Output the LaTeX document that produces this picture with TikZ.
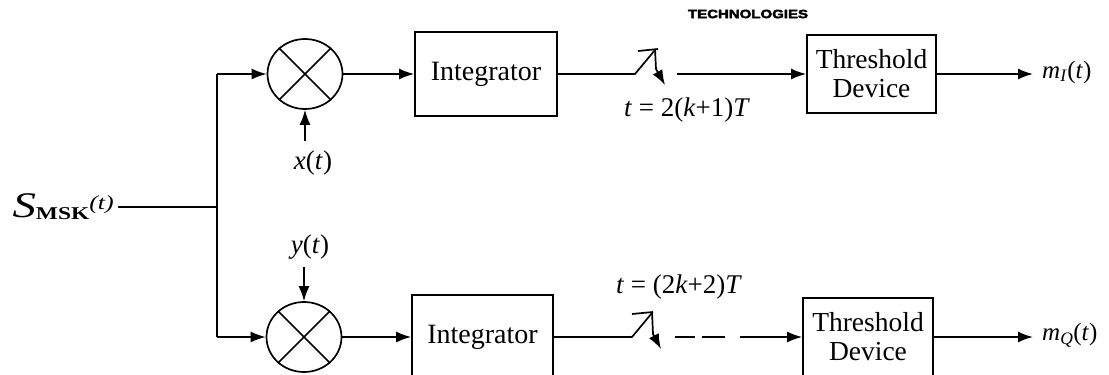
\documentclass[tikz,border=0pt]{standalone}
\usepackage{fontspec}
\setmainfont{Liberation Serif}
\newfontfamily\wmfont[FakeBold=3]{Liberation Sans Bold}
\usetikzlibrary{arrows.meta,shapes.geometric,calc}

\begin{document}
\begin{tikzpicture}[x=1pt,y=-1pt,
  wire/.style={line width=1.7pt},
  flow/.style={wire,-{Latex[length=15pt,width=11pt]}},
  block/.style={draw,line width=1.7pt,inner sep=0pt,align=center,
                font=\fontsize{28}{29}\selectfont},
  mixer/.style={draw,ellipse,line width=1.7pt,minimum width=75pt,
                minimum height=70pt,inner sep=0pt},
  lbl/.style={inner sep=0pt,font=\fontsize{27}{30}\selectfont},
  outlbl/.style={inner sep=0pt,font=\fontsize{25}{27}\selectfont}]
\useasboundingbox (0,0) rectangle (1109,375);

% watermark line along the top
\node[inner sep=0pt] (wm) at (748,14)
  {\scalebox{1.25}[1]{\wmfont\fontsize{12}{12}\selectfont TECHNOLOGIES}};

% input and splitting point
\node[inner sep=0pt,anchor=east] (sin) at (114,207)
  {\scalebox{1.3}[1]{\fontsize{36}{38}\selectfont\textit{S}\raisebox{-2pt}{\fontsize{18}{19}\selectfont\bfseries MSK}\raisebox{8pt}{\fontsize{20}{21}\selectfont\itshape (t)}}};
\coordinate (j)  at (217,207);
\coordinate (jt) at (217,74);
\coordinate (jb) at (217,337);

% multipliers
\node[mixer] (m1) at (305,74) {};
\node[mixer] (m2) at (304,337) {};
\draw[wire] (m1.45) -- (m1.225) (m1.135) -- (m1.315);
\draw[wire] (m2.45) -- (m2.225) (m2.135) -- (m2.315);

% reference signals
\node[lbl] (xl) at (313,163) {\textit{x}(\textit{t})};
\node[lbl] (yl) at (310,247) {\textit{y}(\textit{t})};
\coordinate (xs) at (305,141);
\coordinate (ys) at (304,267);

% integrators
\node[block,minimum width=142pt,minimum height=84pt] (int1) at (486,74) {Integrator};
\node[block,minimum width=141pt,minimum height=84pt] (int2) at (482.5,337) {Integrator};

% threshold devices
\node[block,minimum width=129pt,minimum height=78pt,font=\fontsize{27.5}{29}\selectfont]
  (th1) at (871.5,74) {Threshold\\Device};
\node[block,minimum width=130pt,minimum height=78pt,font=\fontsize{27.5}{29}\selectfont]
  (th2) at (868,337) {Threshold\\Device};

% sampling switches
\coordinate (sw1) at (635,74);
\coordinate (so1) at (677,74);
\coordinate (sw2) at (632,337);
\coordinate (so2) at (675,337);

\node[lbl] (t1) at (687,110) {\textit{t} = 2(\textit{k}+1)\textit{T}};
\node[lbl] (t2) at (679,287) {\textit{t} = (2\textit{k}+2)\textit{T}};

% outputs
\coordinate (o1) at (1033,74);
\coordinate (o2) at (1033,337);
\node[outlbl,anchor=west] (mi) at (1042,72) {\textit{m}\textsubscript{\textit{I}}(\textit{t})};
\node[outlbl,anchor=west] (mq) at (1042,335) {\textit{m}\textsubscript{\textit{Q}}(\textit{t})};

% wiring
\draw[wire] (sin.east) ++(4,0) -- (j);
\draw[wire] (jt) -- (jb);
\draw[flow] (jt) -- (m1.west);
\draw[flow] (jb) -- (m2.west);
\draw[flow] (xs) -- (m1.south);
\draw[flow] (ys) -- (m2.north);
\draw[flow] (m1.east) -- (int1.west);
\draw[flow] (m2.east) -- (int2.west);

% upper sampler
\draw[wire] (int1.east) -- (sw1) -- ++(20,-24);
\draw[wire] ($(sw1)+(3,-23)$) -- ++(20,-2);
\draw[flow] ($(sw1)+(20,-25)$) -- ++(1,20) -- ++(9,16);
\draw[flow] (so1) -- (th1.west);
\draw[flow] (th1.east) -- (o1);

% lower sampler
\draw[wire] (int2.east) -- (sw2) -- ++(20,-24);
\draw[wire] ($(sw2)+(0,-23)$) -- ++(21,-2);
\draw[flow] ($(sw2)+(20,-25)$) -- ++(1,22) -- ++(8,15);
\draw[flow,dash pattern=on 20pt off 7pt on 23pt off 15pt on 200pt] (so2) -- (th2.west);
\draw[flow] (th2.east) -- (o2);
\end{tikzpicture}
\end{document}
